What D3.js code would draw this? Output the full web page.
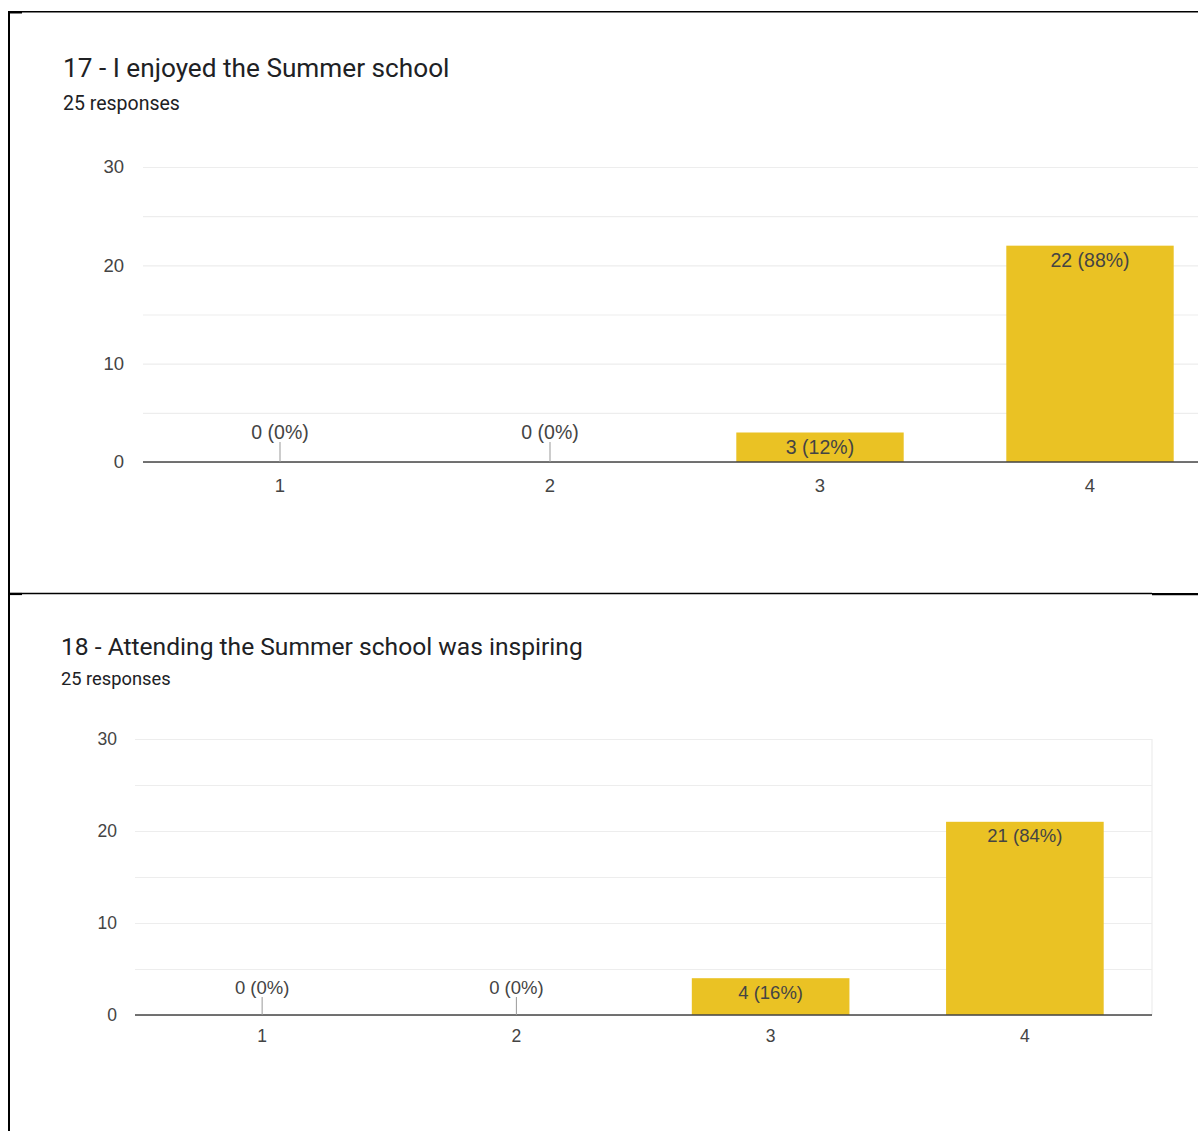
<!DOCTYPE html>
<html>
<head>
<meta charset="utf-8">
<script src="https://cdn.jsdelivr.net/npm/d3@7"></script>
<style>
  html, body { margin: 0; padding: 0; background: #fff; }
  svg { display: block; font-family: Roboto, "Noto Sans", Arial, sans-serif; }
</style>
</head>
<body>
<svg id="chart" width="1198" height="1131"></svg>
<script>
// ---- data ----
const categories = ["1", "2", "3", "4"];
const titles = ["17 - I enjoyed the Summer school", "18 - Attending the Summer school was inspiring"];
const subtitles = ["25 responses", "25 responses"];
const totals = [25, 25];
const q17Values = [0, 0, 3, 22];
const q18Values = [0, 0, 4, 21];
const yTicks = [0, 10, 20, 30];
const yGrid = [0, 5, 10, 15, 20, 25, 30];

const series = [q17Values, q18Values];

// ---- layout ----
const panels = [
  { gridLeft: 143, gridRight: 1198, left: 145, right: 1225, bottom: 462, top: 167,
    titleX: 63, titleY: 77, subY: 110, rightEdge: false, xPad: 17, yPad: 19,
    titleSize: 26.2, subSize: 19.5, tickSize: 18.5, labelSize: 19.5, zeroOff: 29.5, leader: 20, inOff: 14.5 },
  { gridLeft: 135, gridRight: 1152, left: 135, right: 1152, bottom: 1015, top: 739,
    titleX: 61, titleY: 655, subY: 685, rightEdge: true, xPad: 15, yPad: 18,
    titleSize: 24.6, subSize: 18.3, tickSize: 17.5, labelSize: 18.5, zeroOff: 27, leader: 18, inOff: 14 }
];

const svg = d3.select("#chart");
const barColor = "#EAC224";
const chartFont = "'Liberation Sans', Arial, sans-serif";

// frame lines (screenshot borders)
svg.append("rect").attr("x", 0).attr("y", 0).attr("width", 1198).attr("height", 1131).attr("fill", "#fff");
svg.append("line").attr("x1", 8).attr("x2", 1198).attr("y1", 11.8).attr("y2", 11.8).attr("stroke", "#000").attr("stroke-width", 1.6);
svg.append("line").attr("x1", 8).attr("x2", 22).attr("y1", 12.3).attr("y2", 12.3).attr("stroke", "#000").attr("stroke-width", 2.4);
svg.append("line").attr("x1", 9).attr("x2", 9).attr("y1", 11).attr("y2", 1131).attr("stroke", "#000").attr("stroke-width", 2);
svg.append("line").attr("x1", 8).attr("x2", 1152).attr("y1", 593.5).attr("y2", 593.5).attr("stroke", "#000").attr("stroke-width", 1.4);
svg.append("line").attr("x1", 8).attr("x2", 22).attr("y1", 594).attr("y2", 594).attr("stroke", "#000").attr("stroke-width", 2.2);
svg.append("line").attr("x1", 1152).attr("x2", 1198).attr("y1", 594.2).attr("y2", 594.2).attr("stroke", "#000").attr("stroke-width", 2.2);

panels.forEach((p, i) => {
  const values = series[i];
  const total = totals[i];
  const g = svg.append("g");

  g.append("text").attr("x", p.titleX).attr("y", p.titleY)
    .attr("font-size", p.titleSize).attr("fill", "#202124").text(titles[i]);
  g.append("text").attr("x", p.titleX).attr("y", p.subY)
    .attr("font-size", p.subSize).attr("fill", "#202124").text(subtitles[i]);

  const x = d3.scaleBand().domain(categories).range([p.left, p.right]).paddingInner(0.38).paddingOuter(0.19);
  const y = d3.scaleLinear().domain([0, 30]).range([p.bottom, p.top]);

  // gridlines
  const grid = g.append("g").attr("transform", `translate(${p.gridLeft},0)`)
    .call(d3.axisLeft(y).tickValues(yGrid).tickSize(-(p.gridRight - p.gridLeft)).tickFormat(""));
  grid.select(".domain").remove();
  grid.selectAll(".tick line").attr("stroke", "#ededed").attr("stroke-width", 1.2);

  if (p.rightEdge) {
    g.append("line").attr("x1", p.gridRight).attr("x2", p.gridRight).attr("y1", p.top).attr("y2", p.bottom)
      .attr("stroke", "#ededed").attr("stroke-width", 1.2);
  }

  // y tick labels
  const yAx = g.append("g").attr("transform", `translate(${p.gridLeft},0)`)
    .call(d3.axisLeft(y).tickValues(yTicks).tickSize(0).tickPadding(p.yPad));
  yAx.select(".domain").remove();
  yAx.selectAll("text").attr("font-size", p.tickSize).attr("fill", "#444").attr("font-family", chartFont);

  // bars
  g.selectAll("rect.bar").data(values).join("rect").attr("class", "bar")
    .attr("x", (d, j) => x(categories[j]))
    .attr("width", x.bandwidth())
    .attr("y", d => y(d))
    .attr("height", d => y(0) - y(d))
    .attr("fill", barColor);

  // baseline axis
  const xAx = g.append("g").attr("transform", `translate(0,${p.bottom})`)
    .call(d3.axisBottom(x).tickSize(0).tickPadding(p.xPad));
  xAx.select(".domain").attr("stroke", "#444").attr("stroke-width", 1.6)
    .attr("d", `M${p.gridLeft},0H${p.gridRight}`);
  xAx.selectAll("text").attr("font-size", p.tickSize).attr("fill", "#444").attr("font-family", chartFont);

  // value labels
  values.forEach((v, j) => {
    const cx = x(categories[j]) + x.bandwidth() / 2;
    const lbl = `${v} (${Math.round(v / total * 100)}%)`;
    if (v === 0) {
      g.append("line").attr("x1", cx).attr("x2", cx).attr("y1", y(0) - p.leader).attr("y2", y(0))
        .attr("stroke", "#999").attr("stroke-width", 1);
      g.append("text").attr("x", cx).attr("y", y(0) - p.zeroOff).attr("dy", "0.35em")
        .attr("text-anchor", "middle").attr("font-size", p.labelSize).attr("fill", "#444")
        .attr("font-family", chartFont).text(lbl);
    } else {
      g.append("text").attr("x", cx).attr("y", y(v) + p.inOff).attr("dy", "0.35em")
        .attr("text-anchor", "middle").attr("font-size", p.labelSize).attr("fill", "#444")
        .attr("font-family", chartFont).text(lbl);
    }
  });
});
</script>
</body>
</html>
